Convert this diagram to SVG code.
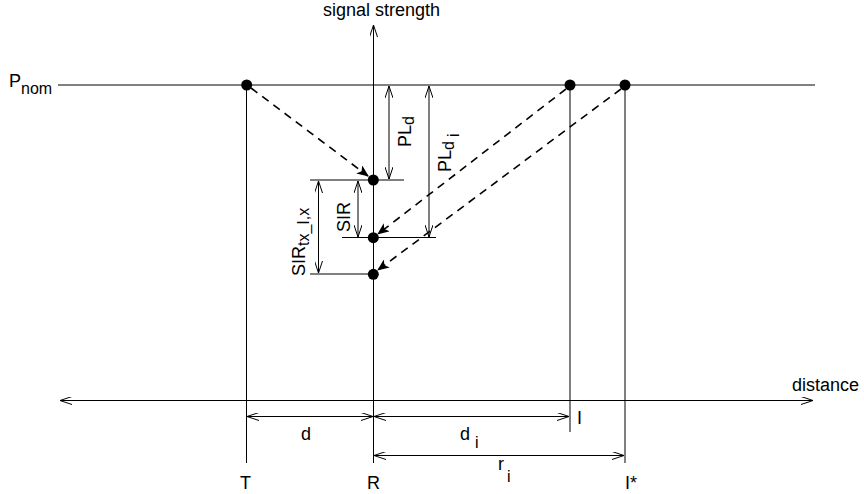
<svg xmlns="http://www.w3.org/2000/svg" width="864" height="494" viewBox="0 0 864 494">
<defs>
<marker id="open" viewBox="0 0 12 8" markerWidth="12" markerHeight="8" refX="12" refY="4" orient="auto-start-reverse" markerUnits="userSpaceOnUse">
<path d="M0,0 L12,4 L0,8" fill="none" stroke="#000" stroke-width="1"/>
</marker>
<marker id="solid" viewBox="0 0 12 10" markerWidth="12" markerHeight="10" refX="11" refY="5" orient="auto" markerUnits="userSpaceOnUse">
<path d="M0,0 L12,5 L0,10 L3,5 Z" fill="#000"/>
</marker>
</defs>
<style>
line{stroke:#000;stroke-width:1;fill:none}
.dbl{marker-start:url(#open);marker-end:url(#open)}
.one{marker-end:url(#open)}
.dash{stroke-width:1.6;stroke-dasharray:8 6;marker-end:url(#solid)}
text{font-family:"Liberation Sans",Arial,sans-serif;font-size:18px;fill:#000}
.sub{font-size:16px}
circle{fill:#000}
</style>
<g id="connectors">
<line x1="58" y1="85" x2="815" y2="85"/>
<line class="one" x1="373.5" y1="463" x2="373.5" y2="25"/>
<line class="dbl" x1="60" y1="400.5" x2="813" y2="400.5"/>
<line x1="246.5" y1="85" x2="246.5" y2="463"/>
<line x1="570" y1="85" x2="570" y2="432"/>
<line x1="625" y1="85" x2="625" y2="463"/>
<line x1="310" y1="180" x2="404" y2="180"/>
<line x1="342" y1="237.5" x2="436" y2="237.5"/>
<line x1="310" y1="274" x2="373" y2="274"/>
<line class="dbl" x1="318.5" y1="181" x2="318.5" y2="273"/>
<line class="dbl" x1="358" y1="181" x2="358" y2="237"/>
<line class="dbl" x1="389" y1="86" x2="389" y2="179"/>
<line class="dbl" x1="429" y1="86" x2="429" y2="237"/>
<line class="dbl" x1="247" y1="416.5" x2="373" y2="416.5"/>
<line class="dbl" x1="374" y1="416.5" x2="569" y2="416.5"/>
<line class="dbl" x1="374" y1="455.5" x2="624" y2="455.5"/>
<line class="dash" x1="251" y1="88" x2="368" y2="176"/>
<line class="dash" x1="566" y1="89" x2="378" y2="234"/>
<line class="dash" x1="621" y1="89" x2="378" y2="270"/>
</g>
<g id="dots">
<circle cx="246.7" cy="85" r="5.5"/>
<circle cx="570" cy="85" r="5.5"/>
<circle cx="625" cy="85" r="5.5"/>
<circle cx="373.3" cy="180" r="5.5"/>
<circle cx="373.3" cy="237.7" r="5.5"/>
<circle cx="373.3" cy="274.3" r="5.5"/>
</g>
<g id="labels">
<text x="323" y="16">signal strength</text>
<text x="9" y="87">P</text>
<text class="sub" x="21" y="94">nom</text>
<text x="792" y="391">distance</text>
<text transform="translate(305,276) rotate(-90)">SIR<tspan class="sub" dy="4">tx_I,x</tspan></text>
<text transform="translate(350,232) rotate(-90)">SIR</text>
<text transform="translate(411,147) rotate(-90)">PL<tspan class="sub" dy="3">d</tspan></text>
<text transform="translate(451,172) rotate(-90)">PL<tspan class="sub" dy="3">d</tspan><tspan class="sub" dx="4" dy="5">i</tspan></text>
<text x="301" y="440">d</text>
<text x="460" y="440">d</text>
<text class="sub" x="475" y="448">i</text>
<text x="577" y="424">I</text>
<text x="498" y="470">r</text>
<text class="sub" x="507" y="482">i</text>
<text x="240" y="489">T</text>
<text x="367" y="489">R</text>
<text x="625" y="489">I*</text>
</g>
</svg>
